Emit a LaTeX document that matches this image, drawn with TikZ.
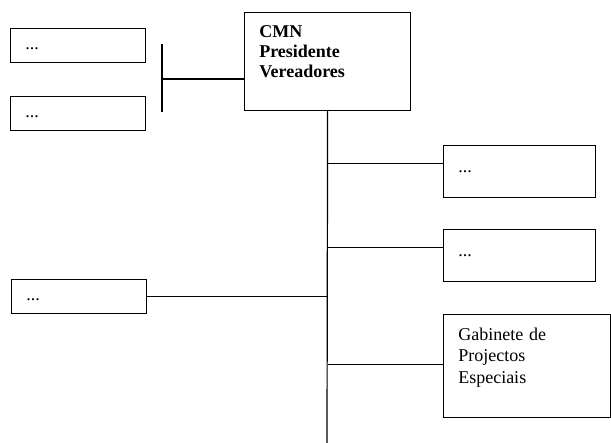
\documentclass[tikz,border=0pt]{standalone}
\usepackage{fontspec}
\setmainfont{Liberation Serif}
\begin{document}
\begin{tikzpicture}[x=0.75pt, y=-0.75pt, line width=0.9pt,
    unit/.style={draw, rectangle, anchor=north west, inner xsep=11pt, inner ysep=0pt,
        align=left, font=\fontsize{13.5}{16}\selectfont},
    leftunit/.style={unit, text width=79.25pt, minimum height=25.5pt},
    rightunit/.style={unit, text width=92pt, minimum height=39pt}]
    \useasboundingbox (0,0) rectangle (611,443);
    % council on top
    \node[unit, text width=102.5pt, minimum height=73.5pt,
        font=\fontsize{13.5}{15}\selectfont\bfseries] (cmn) at (244,12)
        {CMN\\Presidente\\Vereadores\\\mbox{}};
    \node[leftunit] (a) at (10,28) {\strut...};
    \node[leftunit] (b) at (10,96) {\strut...};
    \node[leftunit] (c) at (11,279) {\strut...};
    \node[rightunit] (r1) at (443,145) {...};
    \node[rightunit] (r2) at (443,229) {...};
    \node[unit, text width=103.25pt, minimum height=77.25pt] (gab) at (443,314)
        {Gabinete de\\Projectos\\Especiais\\\mbox{}};
    % bar on the left of the council
    \coordinate (bartop) at (162,44);
    \coordinate (barbot) at (162,112);
    \coordinate (barmid) at (162,79);
    \draw (bartop) -- (barbot);
    \draw (barmid) -- (barmid -| cmn.west);
    % trunk and branches
    \coordinate (foot) at (327,443);
    \draw (cmn.south) -- (foot);
    \foreach \n/\dy in {r1/6pt, r2/6pt, gab/1pt} {
        \draw ([yshift=\dy]\n.west) -- ([yshift=\dy]\n.west -| cmn.south);
    };
    \draw (c.east) -- (c.east -| cmn.south);
\end{tikzpicture}
\end{document}
